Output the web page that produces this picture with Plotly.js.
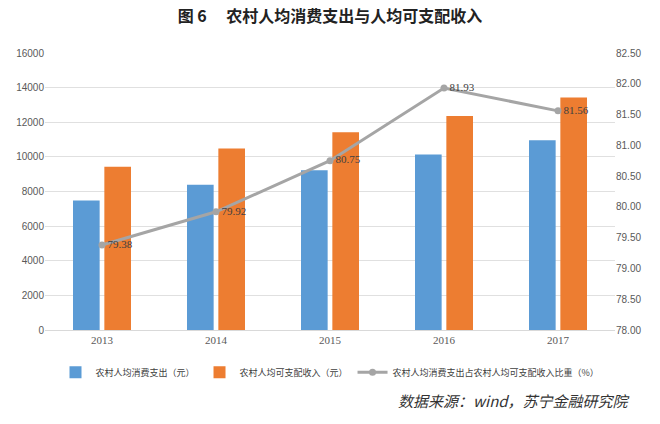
<!DOCTYPE html>
<html><head><meta charset="utf-8">
<script src="https://cdn.plot.ly/plotly-3.0.1.min.js"></script>
<style>body{margin:0;background:#fff}#c{width:660px;height:424px}</style>
</head><body><div id="c"></div>
<script>
var years = ['2013', '2014', '2015', '2016', '2017'];
var spend = [7485, 8383, 9223, 10130, 10955];
var income = [9430, 10489, 11422, 12363, 13432];
var ratio = [79.38, 79.92, 80.75, 81.93, 81.56];
var ratioLabels = ['79.38', '79.92', '80.75', '81.93', '81.56'];

var f = 'Noto Sans CJK SC, sans-serif';
var data = [
  {type: 'bar', x: years, y: spend, name: '农村人均消费支出（元）', marker: {color: '#5b9bd5'}},
  {type: 'bar', x: years, y: income, name: '农村人均可支配收入（元）', marker: {color: '#ed7d31'}},
  {type: 'scatter', mode: 'lines+markers+text', x: years, y: ratio, yaxis: 'y2',
   name: '农村人均消费支出占农村人均可支配收入比重（%）',
   line: {color: '#a5a5a5', width: 3}, marker: {color: '#a5a5a5', size: 7},
   text: ratioLabels, textposition: 'middle right',
   textfont: {family: 'Liberation Serif', size: 11, color: '#404040'}}
];
var layout = {
  width: 660, height: 424,
  margin: {l: 45, r: 45, t: 53, b: 94},
  title: {text: '<b>图 6　 农村人均消费支出与人均可支配收入</b>', x: 0.5, y: 0.975,
          font: {family: f, size: 16, color: '#222'}},
  font: {family: 'Liberation Serif', size: 11, color: '#595959'},
  bargap: 0.45, bargroupgap: 0.15,
  xaxis: {showline: true, linecolor: '#d9d9d9', ticks: ''},
  yaxis: {range: [0, 16000], dtick: 2000, tickformat: 'd', gridcolor: '#e0e0e0', zeroline: false,
          tickfont: {family: 'Liberation Sans', size: 10}},
  yaxis2: {overlaying: 'y', side: 'right', range: [78, 82.5], dtick: 0.5,
           tickformat: '.2f', showgrid: false, zeroline: false,
           tickfont: {family: 'Liberation Sans', size: 10}},
  legend: {orientation: 'h', x: 0.5, xanchor: 'center', y: -0.1, itemwidth: 30,
           font: {family: f, size: 9, color: '#404040'}},
  annotations: [{text: '<i>数据来源：wind，苏宁金融研究院</i>', xref: 'paper', yref: 'paper',
                 x: 1.03, y: -0.3, xanchor: 'right', showarrow: false,
                 font: {family: f, size: 15, color: '#333'}}]
};
Plotly.newPlot('c', data, layout, {displayModeBar: false});
</script></body></html>
